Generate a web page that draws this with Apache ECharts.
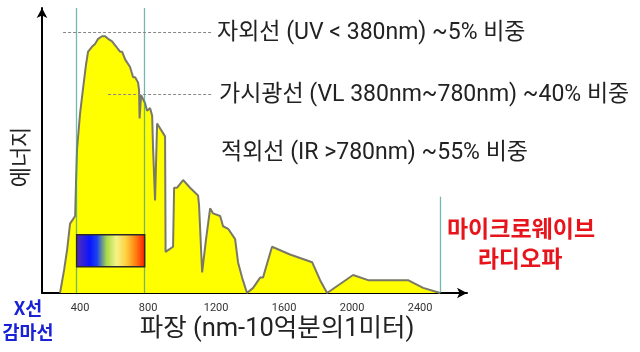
<!DOCTYPE html>
<html>
<head>
<meta charset="utf-8">
<script src="https://cdn.jsdelivr.net/npm/echarts@6/dist/echarts.min.js"></script>
<style>
  html, body { margin: 0; padding: 0; background: #fff; }
  #chart { width: 640px; height: 352px; }
</style>
</head>
<body>
<div id="chart"></div>
<script>
// 파장 (nm) / 상대 에너지 (최고점 = 100)
var wavelength = [282, 306, 324, 341, 371, 376, 382, 400, 418, 435, 447, 471, 488, 506, 529, 547, 565, 588, 612, 635, 647, 665, 694, 712, 724, 741, 747, 750, 759, 782, 794, 812, 824, 829, 841, 853, 900, 903, 947, 953, 971, 1006, 1047, 1094, 1100, 1118, 1141, 1165, 1182, 1224, 1241, 1271, 1312, 1329, 1353, 1382, 1418, 1459, 1476, 1529, 1635, 1765, 1812, 1853, 2006, 2094, 2329, 2418, 2518];
var energy = [0, 9, 17, 27, 30, 43, 56, 70, 80, 89, 94, 96, 97, 99, 100, 100, 99, 98, 96, 94, 94, 91, 88, 84, 84, 82, 79, 68, 77, 74, 71, 72, 69, 57, 36, 66, 61, 16, 18, 41, 41, 44, 41, 38, 34, 8, 21, 33, 31, 30, 26, 25, 21, 12, 6, 0, 2, 6, 6, 18, 15, 12, 5, 0, 7, 5, 5, 2, 0];
var tickLabels = [400, 800, 1200, 1600, 2000, 2400];
// 구간 경계 (nm)
var uvEdge = 380;
var irEdge = 780;
var radioEdge = 2520;
// 가시광선 색띠 (nm 시작, nm 끝, 위, 아래)
var spectrumBand = [[uvEdge, irEdge, 22.7, 10.2]];
var notes = [
  '자외선 (UV < 380nm) ~5% 비중',
  '가시광선 (VL 380nm~780nm) ~40% 비중',
  '적외선 (IR >780nm) ~55% 비중'
];

var chart = echarts.init(document.getElementById('chart'));
var KR = '"Noto Sans CJK KR", sans-serif';
var NOTE_FONT = 'Roboto, "Noto Sans CJK KR", sans-serif';
var edgeLine = { color: '#3a9a8a', width: 1.3, type: 'solid', opacity: 0.7 };
var guideLine = { color: '#888', width: 1, type: [3, 2] };

var points = wavelength.map(function (w, i) { return [w, energy[i]]; });

function noteText(x, y, text) {
  return {
    type: 'text', x: x, y: y,
    style: { text: text, fontSize: 23, fontFamily: NOTE_FONT, fill: '#222', verticalAlign: 'middle' }
  };
}

function label(x, y, text, size, color, bold) {
  return {
    type: 'text', x: x, y: y,
    style: {
      text: text, fontSize: size, fontWeight: bold ? 'bold' : 'normal',
      fontFamily: KR, fill: color, align: 'center', verticalAlign: 'middle'
    }
  };
}

chart.setOption({
  animation: false,
  grid: { left: 42, right: 173, top: 8, bottom: 59 },
  xAxis: {
    type: 'value',
    min: 176,
    max: 2676,
    splitLine: { show: false },
    axisTick: { show: false },
    axisLine: {
      lineStyle: { color: '#000', width: 2 },
      symbol: ['none', 'arrow'],
      symbolSize: [8, 10]
    },
    axisLabel: {
      customValues: tickLabels,
      formatter: function (v) { return String(v); },
      color: '#333',
      fontSize: 11,
      fontFamily: 'Roboto',
      margin: 10
    }
  },
  yAxis: {
    type: 'value',
    min: 0,
    max: 111,
    splitLine: { show: false },
    axisTick: { show: false },
    axisLabel: { show: false },
    axisLine: {
      show: true,
      lineStyle: { color: '#000', width: 2 },
      symbol: ['none', 'arrow'],
      symbolSize: [8, 10]
    }
  },
  series: [
    {
      type: 'line',
      data: points,
      showSymbol: false,
      lineStyle: { color: '#7a7866', width: 2 },
      areaStyle: { color: '#ffff00', opacity: 1 },
      z: 2,
      markLine: {
        silent: true,
        symbol: ['none', 'none'],
        label: { show: false },
        data: [
          [{ coord: [uvEdge, 0], lineStyle: edgeLine }, { coord: [uvEdge, 111] }],
          [{ coord: [irEdge, 0], lineStyle: edgeLine }, { coord: [irEdge, 111] }],
          [{ coord: [radioEdge, 0], lineStyle: edgeLine }, { coord: [radioEdge, 37.5] }],
          [{ coord: [300, 101.6], lineStyle: guideLine }, { coord: [1176, 101.6] }],
          [{ coord: [565, 77.3], lineStyle: guideLine }, { coord: [1182, 77.3] }]
        ]
      }
    },
    {
      type: 'custom',
      data: spectrumBand,
      z: 6,
      silent: true,
      renderItem: function (params, api) {
        var p1 = api.coord([api.value(0), api.value(2)]);
        var p2 = api.coord([api.value(1), api.value(3)]);
        return {
          type: 'rect',
          shape: { x: p1[0], y: p1[1], width: p2[0] - p1[0], height: p2[1] - p1[1] },
          style: {
            stroke: '#2a2a2a',
            lineWidth: 1.5,
            fill: new echarts.graphic.LinearGradient(0, 0, 1, 0, [
              { offset: 0, color: '#5a2fb0' },
              { offset: 0.2, color: '#0a14ff' },
              { offset: 0.3, color: '#1a40f0' },
              { offset: 0.44, color: '#a8d848' },
              { offset: 0.58, color: '#f4f488' },
              { offset: 0.72, color: '#ffd040' },
              { offset: 0.86, color: '#ff8010' },
              { offset: 1, color: '#ff1500' }
            ])
          }
        };
      }
    }
  ],
  graphic: [
    noteText(217, 33, notes[0]),
    noteText(219, 95, notes[1]),
    noteText(221, 153, notes[2]),
    { type: 'text', x: 20, y: 157, rotation: Math.PI / 2, style: { text: '에너지', fontSize: 22, fontFamily: KR, fill: '#222', align: 'center', verticalAlign: 'middle' } },
    label(521, 228, '마이크로웨이브', 23, '#e8141c', true),
    label(520, 258, '라디오파', 23, '#e8141c', true),
    label(28, 308, 'X선', 18.5, '#1a22d6', true),
    label(28, 332, '감마선', 18.5, '#1a22d6', true),
    { type: 'text', x: 277, y: 330, style: { text: '파장 (nm-10억분의1미터)', fontSize: 25.5, fontFamily: NOTE_FONT, fill: '#222', align: 'center', verticalAlign: 'middle' } }
  ]
});
</script>
</body>
</html>
